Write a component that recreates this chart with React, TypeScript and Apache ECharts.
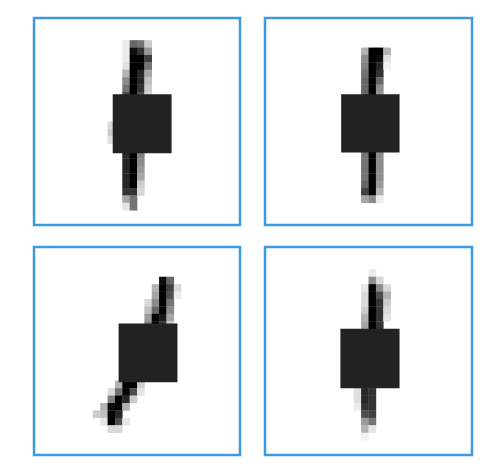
import React, { useEffect, useRef } from 'react';
import * as echarts from 'echarts';

// pixel grid size of each digit image (28 x 28)
const gridSize = 28;

// ink pixels: [column, row, intensity 0..1]
const digitA: number[][] = [
  [12, 3, 0.08], [13, 3, 0.6], [14, 3, 0.55], [15, 3, 0.2],
  [12, 4, 0.08], [13, 4, 0.95], [14, 4, 0.8], [15, 4, 0.4],
  [12, 5, 0.08], [13, 5, 1], [14, 5, 1], [15, 5, 0.75],
  [12, 6, 0.12], [13, 6, 1], [14, 6, 1], [15, 6, 0.55],
  [12, 7, 0.3], [13, 7, 1], [14, 7, 0.85], [15, 7, 0.35],
  [12, 8, 0.45], [13, 8, 1], [14, 8, 0.85], [15, 8, 0.25],
  [12, 9, 0.55], [13, 9, 1], [14, 9, 0.8], [15, 9, 0.2],
  [12, 10, 0.7], [13, 10, 1], [14, 10, 0.7], [15, 10, 0.15],
  [10, 14, 0.15], [10, 15, 0.2], [10, 16, 0.12],
  [12, 18, 0.85], [13, 18, 1], [14, 18, 0.5],
  [12, 19, 0.85], [13, 19, 1], [14, 19, 0.45],
  [12, 20, 0.85], [13, 20, 1], [14, 20, 0.4],
  [12, 21, 0.85], [13, 21, 1], [14, 21, 0.35],
  [12, 22, 0.85], [13, 22, 1], [14, 22, 0.2],
  [12, 23, 0.8], [13, 23, 0.8], [14, 23, 0.15],
  [12, 24, 0.35], [13, 24, 0.55],
  [12, 25, 0.1], [13, 25, 0.55],
];

const digitB: number[][] = [
  [13, 4, 0.3], [14, 4, 1], [15, 4, 1], [16, 4, 0.3],
  [13, 5, 0.45], [14, 5, 1], [15, 5, 0.95], [16, 5, 0.12],
  [13, 6, 0.5], [14, 6, 1], [15, 6, 0.85], [16, 6, 0.06],
  [13, 7, 0.55], [14, 7, 1], [15, 7, 0.8],
  [13, 8, 0.6], [14, 8, 1], [15, 8, 0.6],
  [13, 9, 0.6], [14, 9, 1], [15, 9, 0.45],
  [13, 10, 0.6], [14, 10, 1], [15, 10, 0.4],
  [13, 18, 0.55], [14, 18, 1], [15, 18, 0.45],
  [13, 19, 0.55], [14, 19, 1], [15, 19, 0.45],
  [13, 20, 0.55], [14, 20, 1], [15, 20, 0.45],
  [13, 21, 0.55], [14, 21, 1], [15, 21, 0.45],
  [13, 22, 0.6], [14, 22, 1], [15, 22, 0.4],
  [13, 23, 0.75], [14, 23, 1], [15, 23, 0.3],
  [13, 24, 0.35], [14, 24, 0.45], [15, 24, 0.08],
];

const digitC: number[][] = [
  [17, 4, 0.95], [18, 4, 0.6],
  [16, 5, 0.3], [17, 5, 1], [18, 5, 0.75], [19, 5, 0.15],
  [16, 6, 0.35], [17, 6, 1], [18, 6, 0.7], [19, 6, 0.08],
  [15, 7, 0.15], [16, 7, 0.45], [17, 7, 1], [18, 7, 0.55],
  [15, 8, 0.25], [16, 8, 0.6], [17, 8, 1], [18, 8, 0.45],
  [15, 9, 0.4], [16, 9, 1], [17, 9, 0.9], [18, 9, 0.35],
  [15, 10, 0.5], [16, 10, 1], [17, 10, 0.8], [18, 10, 0.2],
  [11, 18, 0.3], [12, 18, 1], [13, 18, 1], [14, 18, 0.2],
  [10, 19, 0.15], [11, 19, 0.55], [12, 19, 1], [13, 19, 0.7], [14, 19, 0.1],
  [10, 20, 0.5], [11, 20, 1], [12, 20, 0.85], [13, 20, 0.2],
  [9, 21, 0.3], [10, 21, 0.95], [11, 21, 1], [12, 21, 0.3],
  [8, 22, 0.2], [9, 22, 0.25], [10, 22, 1], [11, 22, 0.85],
  [9, 23, 0.1], [10, 23, 1], [11, 23, 0.7], [12, 23, 0.1],
  [10, 24, 0.15], [11, 24, 0.15],
];

const digitD: number[][] = [
  [14, 3, 0.08],
  [14, 4, 0.45], [15, 4, 0.15],
  [13, 5, 0.1], [14, 5, 1], [15, 5, 0.45], [16, 5, 0.15],
  [13, 6, 0.15], [14, 6, 1], [15, 6, 0.7], [16, 6, 0.3],
  [13, 7, 0.15], [14, 7, 1], [15, 7, 0.8], [16, 7, 0.2],
  [13, 8, 0.2], [14, 8, 1], [15, 8, 0.8], [16, 8, 0.15],
  [13, 9, 0.3], [14, 9, 1], [15, 9, 0.8], [16, 9, 0.1],
  [13, 10, 0.35], [14, 10, 1], [15, 10, 0.8],
  [13, 18, 0.85], [14, 18, 0.8],
  [12, 19, 0.12], [13, 19, 0.85], [14, 19, 0.8],
  [12, 20, 0.12], [13, 20, 0.85], [14, 20, 0.8],
  [12, 21, 0.08], [13, 21, 0.8], [14, 21, 0.8],
  [13, 22, 0.7], [14, 22, 0.75],
  [13, 23, 0.4], [14, 23, 0.55],
  [13, 24, 0.3], [14, 24, 0.1],
  [13, 25, 0.06],
];

// occluding patch per panel: [x0, y0, x1, y1] in pixel units
const patches: number[][] = [
  [10.7, 10.3, 18.7, 18.3],
  [10.3, 10.3, 18.2, 18.2],
  [11.5, 10.3, 19.5, 18.2],
  [10.2, 11.0, 18.2, 19.0],
];

const digits = [digitA, digitB, digitC, digitD];

// panel boxes on the page: [left, top, width, height]
const panels = [
  [34, 18, 206, 207],
  [265, 18, 207, 207],
  [34, 247, 206, 208],
  [265, 247, 207, 208],
];

const frameColor = '#3c9be0';
const patchColor = '#222222';

const App: React.FC = () => {
  const chartRef = useRef<HTMLDivElement>(null);

  useEffect(() => {
    if (!chartRef.current) return;
    const chart = echarts.init(chartRef.current, undefined, { renderer: 'svg' });

    const grids = panels.map(([left, top, width, height]) => ({
      left, top, width, height,
      show: true,
      backgroundColor: '#ffffff',
      borderColor: frameColor,
      borderWidth: 2.5,
    }));

    const xAxes = panels.map((_, i) => ({
      type: 'value', gridIndex: i, min: 0, max: gridSize, show: false,
    }));
    const yAxes = panels.map((_, i) => ({
      type: 'value', gridIndex: i, min: 0, max: gridSize, inverse: true, show: false,
    }));

    const pixelSeries = digits.map((data, i) => ({
      type: 'custom',
      xAxisIndex: i,
      yAxisIndex: i,
      data,
      encode: { x: 0, y: 1 },
      renderItem: (params: any, api: any) => {
        const c = api.value(0);
        const r = api.value(1);
        const v = api.value(2);
        const p0 = api.coord([c, r]);
        const p1 = api.coord([c + 1, r + 1]);
        const g = Math.round(255 * (1 - v));
        return {
          type: 'rect',
          shape: {
            x: Math.min(p0[0], p1[0]),
            y: Math.min(p0[1], p1[1]),
            width: Math.abs(p1[0] - p0[0]) + 0.3,
            height: Math.abs(p1[1] - p0[1]) + 0.3,
          },
          style: { fill: `rgb(${g},${g},${g})` },
        };
      },
    }));

    const patchSeries = patches.map((p, i) => ({
      type: 'custom',
      xAxisIndex: i,
      yAxisIndex: i,
      data: [p],
      encode: { x: [0, 2], y: [1, 3] },
      z: 3,
      renderItem: (params: any, api: any) => {
        const p0 = api.coord([api.value(0), api.value(1)]);
        const p1 = api.coord([api.value(2), api.value(3)]);
        return {
          type: 'rect',
          shape: {
            x: Math.min(p0[0], p1[0]),
            y: Math.min(p0[1], p1[1]),
            width: Math.abs(p1[0] - p0[0]),
            height: Math.abs(p1[1] - p0[1]),
          },
          style: { fill: patchColor },
        };
      },
    }));

    chart.setOption({
      animation: false,
      backgroundColor: '#ffffff',
      grid: grids,
      xAxis: xAxes,
      yAxis: yAxes,
      series: [...pixelSeries, ...patchSeries],
    } as any);

    return () => {
      chart.dispose();
    };
  }, []);

  return (
    <div
      ref={chartRef}
      style={{ position: 'fixed', left: 0, top: 0, width: '502px', height: '473px' }}
    />
  );
};

export default App;
